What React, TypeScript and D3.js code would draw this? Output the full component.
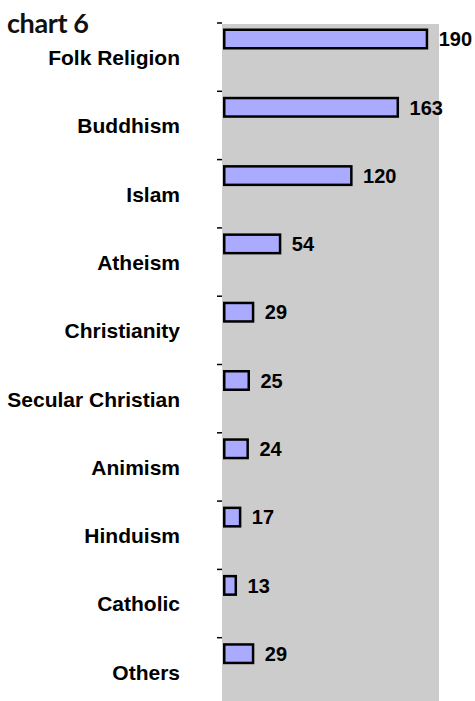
import React from "react";
import * as d3 from "d3";

const categories = [
  "Folk Religion",
  "Buddhism",
  "Islam",
  "Atheism",
  "Christianity",
  "Secular Christian",
  "Animism",
  "Hinduism",
  "Catholic",
  "Others",
];
const values = [190, 163, 120, 54, 29, 25, 24, 17, 13, 29];
const title = "chart 6";

const W = 475;
const H = 701;

export default function App() {
  const x = d3.scaleLinear().domain([0, 200]).range([223, 439]);
  const y = d3
    .scaleBand<string>()
    .domain(categories)
    .range([23, 23 + 68.3 * categories.length])
    .paddingInner(0)
    .paddingOuter(0);

  return (
    <div style={{ position: "absolute", left: 0, top: 0 }}>
      <svg width={W} height={H} style={{ display: "block" }}>
        <rect x={x(0) - 1} y={24} width={x(200) - x(0) + 1} height={H} fill="#cccccc" />
        <text
          x={7}
          y={33}
          fontFamily="Lato, 'Open Sans', sans-serif"
          fontWeight={700}
          fontSize={27}
          letterSpacing={-0.4}
          fill="#111"
        >
          {title}
        </text>
        {categories.map((c, i) => {
          const y0 = y(c) as number;
          const v = values[i];
          return (
            <g key={c}>
              <line x1={217} x2={222} y1={y0} y2={y0} stroke="#000" strokeWidth={1.5} />
              <rect
                x={x(0) + 1.25}
                y={y0 + 6.75}
                width={Math.max(0, x(v) - x(0) - 2.5)}
                height={18.5}
                fill="#aaaaff"
                stroke="#000"
                strokeWidth={2.5}
              />
              <text
                x={x(v) + 10.5}
                y={y0 + 16}
                dy="0.36em"
                fontFamily="'Liberation Sans', Arial, sans-serif"
                fontWeight={700}
                fontSize={20}
                fill="#000"
              >
                {v}
              </text>
              <text
                x={180}
                y={y0 + 42}
                textAnchor="end"
                fontFamily="'Liberation Sans', Arial, sans-serif"
                fontWeight={700}
                fontSize={21}
                fill="#000"
              >
                {c}
              </text>
            </g>
          );
        })}
      </svg>
    </div>
  );
}
